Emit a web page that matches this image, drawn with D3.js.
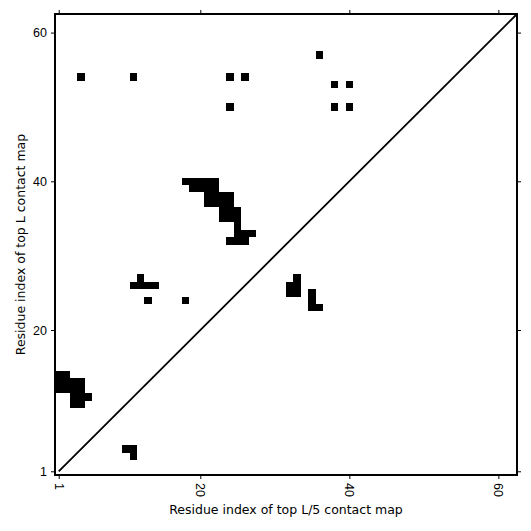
<!DOCTYPE html>
<html>
<head>
<meta charset="utf-8">
<script src="https://cdn.jsdelivr.net/npm/d3@7"></script>
<style>
  html, body { margin: 0; padding: 0; background: #fff; }
  svg { display: block; font-family: "DejaVu Sans", sans-serif; }
</style>
</head>
<body>
<svg id="chart" width="531" height="531"></svg>
<script>
// Residue count (axis runs 1..L)
const L = 62;
// Contact cells: residue index i (x) and j (y)
const contactI = [
  1,1,1,2,2,2,
  3,3,3,3,4,4,4,4,5,
  10,11,11,
  12,11,12,13,14,13,18,
  32,32,33,33,33,35,35,35,36,
  18,19,20,21,22,
  19,20,21,22,
  21,22,23,24,21,22,23,24,
  23,24,25,23,24,25,
  25,
  25,26,27,
  24,25,26,
  4,11,24,26,24,36,38,40,38,40
];
const contactJ = [
  12,13,14,12,13,14,
  10,11,12,13,10,11,12,13,11,
  4,4,3,
  27,26,26,26,26,24,24,
  25,26,25,26,27,23,24,25,23,
  40,40,40,40,40,
  39,39,39,39,
  38,38,38,38,37,37,37,37,
  36,36,36,35,35,35,
  34,
  33,33,33,
  32,32,32,
  54,54,54,54,50,57,53,53,50,50
];
const tickVals = [1, 20, 40, 60];
const xLabel = "Residue index of top L/5 contact map";
const yLabel = "Residue index of top L contact map";

const svg = d3.select("#chart");
const margin = {left: 55, right: 14, top: 14, bottom: 56};
const W = 531, H = 531;
const x = d3.scaleLinear().domain([0.5, L + 0.5]).range([margin.left, W - margin.right]);
const y = d3.scaleLinear().domain([0.5, L + 0.5]).range([H - margin.bottom, margin.top]);

const cells = contactI.map((v, k) => ({i: v, j: contactJ[k]}));

svg.append("g")
  .selectAll("rect")
  .data(cells)
  .join("rect")
  .attr("x", d => x(d.i - 0.5))
  .attr("y", d => y(d.j + 0.5))
  .attr("width", d => x(d.i + 0.5) - x(d.i - 0.5))
  .attr("height", d => y(d.j - 0.5) - y(d.j + 0.5))
  .attr("fill", "#000")
  .attr("shape-rendering", "crispEdges");

// diagonal
svg.append("line")
  .attr("x1", x(1)).attr("y1", y(1))
  .attr("x2", x(L + 0.5)).attr("y2", y(L + 0.5))
  .attr("stroke", "#000").attr("stroke-width", 1.8);

// axes
const fs = "12.5px";
const gx = svg.append("g").attr("transform", `translate(0,${H - margin.bottom})`)
  .call(d3.axisBottom(x).tickValues(tickVals).tickSize(4).tickPadding(3));
gx.select(".domain").remove();
gx.selectAll("text")
  .attr("transform", "rotate(90)")
  .attr("x", 8).attr("y", 0).attr("dy", "0.35em")
  .attr("text-anchor", "start")
  .style("font-size", fs).attr("fill", "#000");

const gy = svg.append("g").attr("transform", `translate(${margin.left},0)`)
  .call(d3.axisLeft(y).tickValues(tickVals).tickSize(4).tickPadding(4));
gy.select(".domain").remove();
gy.selectAll("text").style("font-size", fs).attr("fill", "#000");

const gt = svg.append("g").attr("transform", `translate(0,${margin.top})`)
  .call(d3.axisTop(x).tickValues(tickVals).tickSize(4).tickFormat(""));
gt.select(".domain").remove();

const gr = svg.append("g").attr("transform", `translate(${W - margin.right},0)`)
  .call(d3.axisRight(y).tickValues(tickVals).tickSize(4).tickFormat(""));
gr.select(".domain").remove();

svg.selectAll(".tick line").attr("stroke", "#000").attr("stroke-width", 1);

// frame
svg.append("rect")
  .attr("x", margin.left).attr("y", margin.top)
  .attr("width", W - margin.left - margin.right)
  .attr("height", H - margin.top - margin.bottom)
  .attr("fill", "none").attr("stroke", "#000").attr("stroke-width", 2);

// labels
svg.append("text")
  .attr("x", (margin.left + W - margin.right) / 2)
  .attr("y", 514)
  .attr("text-anchor", "middle")
  .style("font-size", fs)
  .text(xLabel);

svg.append("text")
  .attr("transform", `translate(25,${(margin.top + H - margin.bottom) / 2}) rotate(-90)`)
  .attr("text-anchor", "middle")
  .style("font-size", fs)
  .text(yLabel);
</script>
</body>
</html>
